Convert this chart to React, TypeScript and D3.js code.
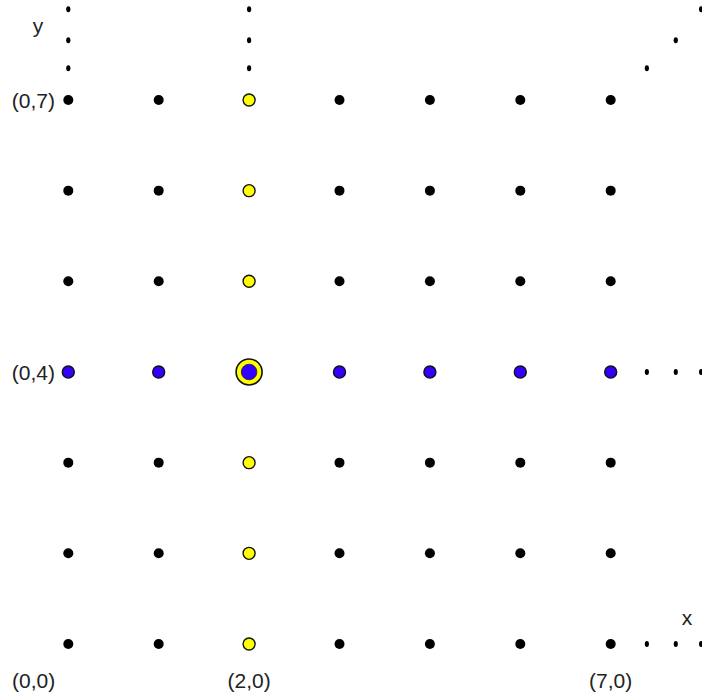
import React from "react";
import * as d3 from "d3";

const W = 702;
const H = 696;

// grid indices (positions along each axis)
const columns = [0, 1, 2, 3, 4, 5, 6];
const rows = [0, 1, 2, 3, 4, 5, 6];
const highlightColumn = 2; // yellow column
const highlightRow = 3; // blue row
// ellipsis dot offsets (beyond the last grid index)
const ellipsisX = [6.4, 6.72, 7.0];
const ellipsisY = [6.35, 6.66, 7.0];
const ellipsisColumns = [0, 2];

const bottomLabels = [
  { col: 0, text: "(0,0)", anchor: "end", dx: -13 },
  { col: 2, text: "(2,0)", anchor: "middle", dx: 0 },
  { col: 6, text: "(7,0)", anchor: "middle", dx: 0 },
];
const leftLabels = [
  { row: 6, text: "(0,7)" },
  { row: 3, text: "(0,4)" },
];

const BLUE = "#3300ff";
const YELLOW = "#ffff00";
const FONT = "'Liberation Sans', Arial, Helvetica, sans-serif";

export default function App() {
  const x = d3.scaleLinear().domain([0, 7]).range([68.3, 68.3 + 7 * 90.4]);
  const y = d3.scaleLinear().domain([0, 7]).range([644, 644 - 7 * 90.67]);

  const points: { c: number; r: number }[] = [];
  rows.forEach((r) => columns.forEach((c) => points.push({ c, r })));

  const smallDots: { cx: number; cy: number }[] = [];
  ellipsisColumns.forEach((c) =>
    ellipsisY.forEach((e) => smallDots.push({ cx: x(c), cy: y(e) }))
  );
  ellipsisX.forEach((e) => smallDots.push({ cx: x(e), cy: y(highlightRow) }));
  ellipsisX.forEach((e) => smallDots.push({ cx: x(e), cy: y(0) }));
  ellipsisX.forEach((e, i) => smallDots.push({ cx: x(e), cy: y(ellipsisY[i]) }));

  return (
    <svg
      width={W}
      height={H}
      style={{ position: "absolute", left: 0, top: 0, background: "#fff" }}
    >
      {smallDots.map((d, i) => (
        <ellipse key={"s" + i} cx={d.cx} cy={d.cy} rx={2.1} ry={3} fill="#000" />
      ))}
      {points.map(({ c, r }) => {
        const cx = x(c);
        const cy = y(r);
        const key = `${c}-${r}`;
        if (c === highlightColumn && r === highlightRow) {
          return (
            <g key={key}>
              <circle cx={cx} cy={cy} r={13} fill={YELLOW} stroke="#111" strokeWidth={1.6} />
              <circle cx={cx} cy={cy} r={7.8} fill={BLUE} stroke="#222" strokeWidth={0.8} />
            </g>
          );
        }
        if (c === highlightColumn) {
          return <circle key={key} cx={cx} cy={cy} r={6} fill={YELLOW} stroke="#111" strokeWidth={1.4} />;
        }
        if (r === highlightRow) {
          return <circle key={key} cx={cx} cy={cy} r={6} fill={BLUE} stroke="#111" strokeWidth={1.4} />;
        }
        return <circle key={key} cx={cx} cy={cy} r={5} fill="#000" />;
      })}
      {bottomLabels.map((l) => (
        <text
          key={l.text}
          x={x(l.col) + l.dx}
          y={688}
          textAnchor={l.anchor}
          fontFamily={FONT}
          fontSize={21}
          fill="#222"
        >
          {l.text}
        </text>
      ))}
      {leftLabels.map((l) => (
        <text
          key={l.text}
          x={55}
          y={y(l.row) + 8}
          textAnchor="end"
          fontFamily={FONT}
          fontSize={21}
          fill="#222"
        >
          {l.text}
        </text>
      ))}
      <text x={38} y={33} textAnchor="middle" fontFamily={FONT} fontSize={21} fill="#222">
        y
      </text>
      <text x={687} y={625} textAnchor="middle" fontFamily={FONT} fontSize={21} fill="#222">
        x
      </text>
    </svg>
  );
}
